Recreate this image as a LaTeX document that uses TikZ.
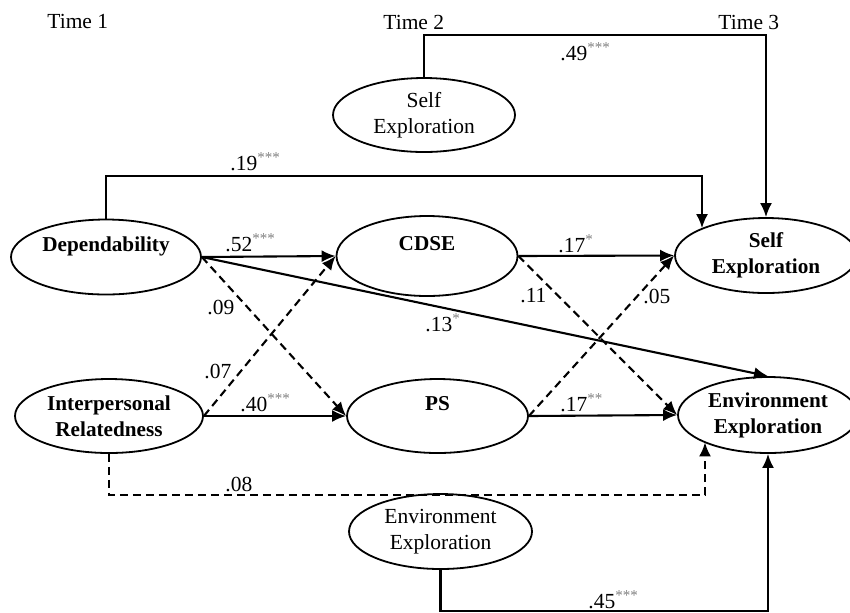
\documentclass[tikz,border=0pt]{standalone}
\usepackage{fontspec}
\setmainfont{Liberation Serif}
\usetikzlibrary{shapes.geometric,arrows.meta}
\newcommand{\sigm}[1]{\textsuperscript{\color{gray}#1}}
\begin{document}
\begin{tikzpicture}[x=0.5pt,y=-0.5pt,
  every node/.style={font=\fontsize{10.75pt}{13pt}\selectfont},
  ell/.style={ellipse,draw,line width=0.9pt,inner sep=0pt,align=center},
  bld/.style={font=\fontsize{10.6pt}{13pt}\selectfont\bfseries},
  conn/.style={line width=1.05pt,-{Latex[length=7pt,width=6pt]}},
  dsh/.style={conn,dash pattern=on 4pt off 2.5pt},
  lbl/.style={anchor=base west,inner sep=0pt},
]
\useasboundingbox (0,0) rectangle (850,612);

% time labels
\node[lbl] (t1) at (47,28) {Time 1};
\node[lbl] (t2) at (383,29) {Time 2};
\node[lbl] (t3) at (718,29) {Time 3};

% ellipses
\node[ell,minimum width=91pt,minimum height=37pt] (se2) at (424,115) {Self\\Exploration};
\node[ell,bld,minimum width=95pt,minimum height=37.5pt] (dep) at (106,257) {Dependability\\\phantom{X}};
\node[ell,bld,minimum width=90.5pt,minimum height=40pt] (cdse) at (427,256) {CDSE\\\phantom{X}};
\node[ell,bld,minimum width=91pt,minimum height=37.5pt] (se3) at (766,255.5) {Self\\Exploration};
\node[ell,bld,minimum width=94pt,minimum height=37pt] (ir) at (109,416) {Interpersonal\\Relatedness};
\node[ell,bld,minimum width=90.5pt,minimum height=37pt] (ps) at (437.5,416) {PS\\\phantom{X}};
\node[ell,bld,minimum width=90pt,minimum height=38pt] (ee3) at (768,415) {Environment\\Exploration};
\node[ell,minimum width=91.5pt,minimum height=37.5pt] (ee2) at (440.5,531.5) {Environment\\Exploration};

% corner coordinates
\coordinate (c49) at (766,35);
\coordinate (c19) at (702,176);
\coordinate (c08) at (705,495);
\coordinate (c45) at (768,611);

% connectors
\draw[conn] (se2.north) |- (c49) -- (se3.north);
\draw[conn] (dep.north) |- (c19) -- (c19 |- se3.157.4);
\draw[conn] (dep.east) -- (cdse.west);
\draw[conn] (dep.east) -- (ee3.north);
\draw[dsh] (dep.east) -- (ps.west);
\draw[dsh] (ir.east) -- (cdse.west);
\draw[conn] (ir.east) -- (ps.west);
\draw[conn] (cdse.east) -- (se3.west);
\draw[dsh] (cdse.east) -- (ee3.west);
\draw[dsh] (ps.east) -- (se3.west);
\draw[conn] (ps.east) -- (ee3.west);
\draw[dsh] (ir.south) |- (c08) -- (c08 |- ee3.203.3);
\draw[conn] (ee2.south) |- (c45) -- (ee3.south);

% coefficient labels
\node[lbl] (l49) at (560,60) {.49\sigm{***}};
\node[lbl] (l19) at (230,170) {.19\sigm{***}};
\node[lbl] (l52) at (225,251) {.52\sigm{***}};
\node[lbl] (l13) at (425,331) {.13\sigm{*}};
\node[lbl] (l09) at (207,314) {.09};
\node[lbl] (l07) at (204,378) {.07};
\node[lbl] (l40) at (240,411) {.40\sigm{***}};
\node[lbl] (l17a) at (558,252) {.17\sigm{*}};
\node[lbl] (l11) at (520,302) {.11};
\node[lbl] (l05) at (643,303) {.05};
\node[lbl] (l17b) at (560,411) {.17\sigm{**}};
\node[lbl] (l08) at (225,491) {.08};
\node[lbl] (l45) at (588,608) {.45\sigm{***}};
\end{tikzpicture}
\end{document}
